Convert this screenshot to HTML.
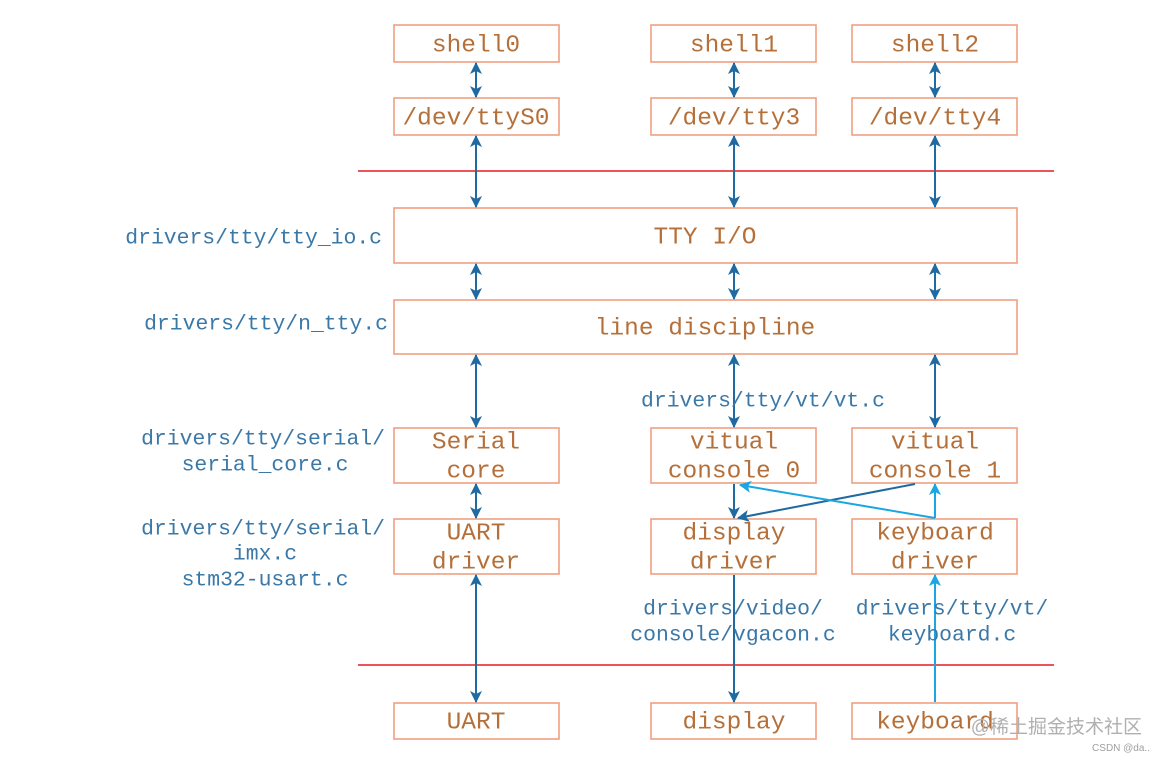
<!DOCTYPE html>
<html><head><meta charset="utf-8"><style>body{margin:0;background:#fff}</style></head><body>
<svg width="1164" height="763" xmlns="http://www.w3.org/2000/svg" font-family="Liberation Mono, monospace">
<defs>
<marker id="d" markerWidth="12" markerHeight="12" refX="11" refY="6" orient="auto-start-reverse" markerUnits="userSpaceOnUse"><path d="M0,0 L12,6 L0,12 L3,6 z" fill="#1f6aa0"/></marker>
<marker id="l" markerWidth="12" markerHeight="12" refX="11" refY="6" orient="auto-start-reverse" markerUnits="userSpaceOnUse"><path d="M0,0 L12,6 L0,12 L3,6 z" fill="#1aa6e0"/></marker>
</defs>
<g stroke="#e41c24" stroke-width="1.6"><line x1="358" y1="171" x2="1054" y2="171"/><line x1="358" y1="665" x2="1054" y2="665"/></g>
<g fill="none" stroke="#f0a080" stroke-width="1.6">
<rect x="394" y="25" width="165" height="37"/><rect x="651" y="25" width="165" height="37"/><rect x="852" y="25" width="165" height="37"/>
<rect x="394" y="98" width="165" height="37"/><rect x="651" y="98" width="165" height="37"/><rect x="852" y="98" width="165" height="37"/>
<rect x="394" y="208" width="623" height="55"/><rect x="394" y="300" width="623" height="54"/>
<rect x="394" y="428" width="165" height="55"/><rect x="651" y="428" width="165" height="55"/><rect x="852" y="428" width="165" height="55"/>
<rect x="394" y="519" width="165" height="55"/><rect x="651" y="519" width="165" height="55"/><rect x="852" y="519" width="165" height="55"/>
<rect x="394" y="703" width="165" height="36"/><rect x="651" y="703" width="165" height="36"/><rect x="852" y="703" width="165" height="36"/>
</g>
<g stroke="#1f6aa0" stroke-width="2" marker-start="url(#d)" marker-end="url(#d)">
<line x1="476" y1="63" x2="476" y2="97"/><line x1="734" y1="63" x2="734" y2="97"/><line x1="935" y1="63" x2="935" y2="97"/>
<line x1="476" y1="136" x2="476" y2="207"/><line x1="734" y1="136" x2="734" y2="207"/><line x1="935" y1="136" x2="935" y2="207"/>
<line x1="476" y1="264" x2="476" y2="299"/><line x1="734" y1="264" x2="734" y2="299"/><line x1="935" y1="264" x2="935" y2="299"/>
<line x1="476" y1="355" x2="476" y2="427"/><line x1="734" y1="355" x2="734" y2="427"/><line x1="935" y1="355" x2="935" y2="427"/>
<line x1="476" y1="484" x2="476" y2="518"/><line x1="476" y1="575" x2="476" y2="702"/>
</g>
<g stroke="#1f6aa0" stroke-width="2" marker-end="url(#d)">
<line x1="734" y1="484" x2="734" y2="518"/><line x1="915" y1="484" x2="738" y2="518"/><line x1="734" y1="575" x2="734" y2="702"/>
</g>
<g stroke="#1aa6e0" stroke-width="2" marker-end="url(#l)">
<line x1="935" y1="518" x2="935" y2="484"/><line x1="935" y1="518" x2="740" y2="485"/><line x1="935" y1="702" x2="935" y2="575"/>
</g>
<g fill="#b5703a" font-size="24.5" text-anchor="middle" dominant-baseline="middle">
<text x="476" y="45">shell0</text><text x="734" y="45">shell1</text><text x="935" y="45">shell2</text>
<text x="476" y="118">/dev/ttyS0</text><text x="734" y="118">/dev/tty3</text><text x="935" y="118">/dev/tty4</text>
<text x="705" y="237">TTY I/O</text><text x="705" y="328">line discipline</text>
<text x="476" y="442">Serial</text><text x="476" y="471">core</text>
<text x="734" y="442">vitual</text><text x="734" y="471">console 0</text>
<text x="935" y="442">vitual</text><text x="935" y="471">console 1</text>
<text x="476" y="533">UART</text><text x="476" y="562">driver</text>
<text x="734" y="533">display</text><text x="734" y="562">driver</text>
<text x="935" y="533">keyboard</text><text x="935" y="562">driver</text>
<text x="476" y="722">UART</text><text x="734" y="722">display</text><text x="935" y="722">keyboard</text>
</g>
<g fill="#3a78a8" font-size="21.4" dominant-baseline="middle">
<text x="382" y="238" text-anchor="end">drivers/tty/tty_io.c</text>
<text x="388" y="324" text-anchor="end">drivers/tty/n_tty.c</text>
<text x="385" y="439" text-anchor="end">drivers/tty/serial/</text>
<text x="265" y="465" text-anchor="middle">serial_core.c</text>
<text x="385" y="529" text-anchor="end">drivers/tty/serial/</text>
<text x="265" y="554" text-anchor="middle">imx.c</text>
<text x="265" y="580" text-anchor="middle">stm32-usart.c</text>
<text x="763" y="401" text-anchor="middle">drivers/tty/vt/vt.c</text>
<text x="733" y="609" text-anchor="middle">drivers/video/</text>
<text x="733" y="635" text-anchor="middle">console/vgacon.c</text>
<text x="952" y="609" text-anchor="middle">drivers/tty/vt/</text>
<text x="952" y="635" text-anchor="middle">keyboard.c</text>
</g>
<text x="1142" y="733" text-anchor="end" font-size="19" fill="#b0b0b0" font-family="Liberation Sans, Noto Sans CJK SC, sans-serif">@稀土掘金技术社区</text>
<text x="1150" y="751" text-anchor="end" font-size="10" fill="#a0a0a0" font-family="Liberation Sans, sans-serif">CSDN @da..</text>
</svg>
</body></html>
